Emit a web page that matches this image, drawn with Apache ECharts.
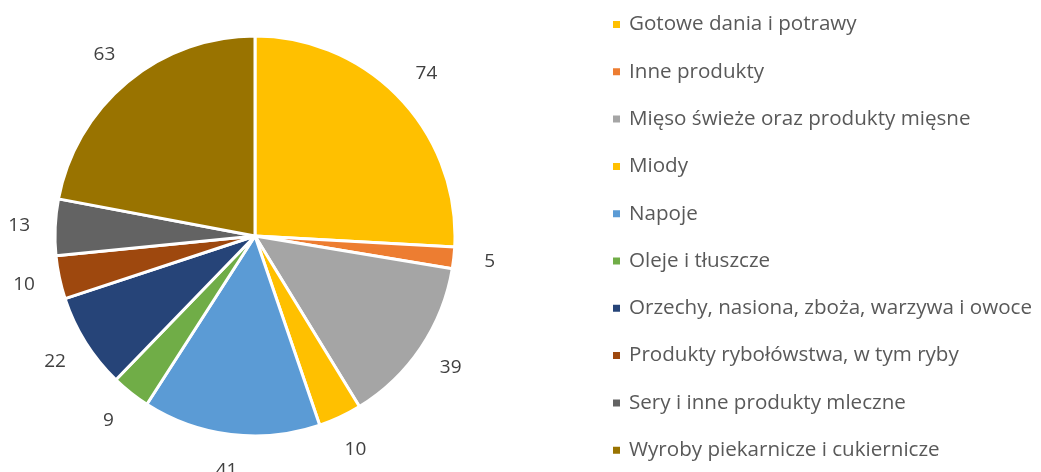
<!DOCTYPE html>
<html>
<head>
<meta charset="utf-8">
<script src="https://cdn.jsdelivr.net/npm/echarts@6/dist/echarts.min.js"></script>
<style>
  html, body { margin: 0; padding: 0; background: #fff; }
  #chart { width: 1041px; height: 472px; }
</style>
</head>
<body>
<div id="chart"></div>
<script>
const categories = [
  "Gotowe dania i potrawy",
  "Inne produkty",
  "Mięso świeże oraz produkty mięsne",
  "Miody",
  "Napoje",
  "Oleje i tłuszcze",
  "Orzechy, nasiona, zboża, warzywa i owoce",
  "Produkty rybołówstwa, w tym ryby",
  "Sery i inne produkty mleczne",
  "Wyroby piekarnicze i cukiernicze"
];
const values = [74, 5, 39, 10, 41, 9, 22, 10, 13, 63];
const colors = ["#FFC000", "#ED7D31", "#A5A5A5", "#FFC000", "#5B9BD5",
                "#70AD47", "#264478", "#9E480E", "#636363", "#997300"];

const font = "Open Sans";
const chart = echarts.init(document.getElementById("chart"));

const pieData = categories.map((name, i) => ({
  name: name,
  value: values[i],
  itemStyle: { color: colors[i] }
}));

chart.setOption({
  animation: false,
  legend: {
    orient: "vertical",
    left: 611,
    top: 14,
    padding: 0,
    icon: "rect",
    itemWidth: 9,
    itemHeight: 9,
    itemGap: 26.3,
    data: categories,
    textStyle: {
      fontFamily: font,
      fontSize: 20.6,
      color: "#595959",
      lineHeight: 20,
      padding: [0, 0, 0, 3]
    }
  },
  series: [
    {
      type: "pie",
      center: [255, 236],
      radius: [0, 200],
      startAngle: 90,
      clockwise: true,
      data: pieData,
      itemStyle: { borderColor: "#fff", borderWidth: 3 },
      label: { show: false },
      labelLine: { show: false },
      emphasis: { disabled: true }
    },
    {
      // transparent ring used only to place the value labels
      type: "pie",
      center: [255, 236],
      radius: [200, 266],
      startAngle: 90,
      clockwise: true,
      silent: true,
      data: pieData.map(d => ({ name: d.name, value: d.value, itemStyle: { color: "rgba(0,0,0,0)" } })),
      itemStyle: { borderWidth: 0 },
      label: {
        show: true,
        position: "inside",
        formatter: "{c}",
        fontFamily: font,
        fontSize: 19,
        color: "#404040"
      },
      labelLine: { show: false },
      emphasis: { disabled: true }
    }
  ]
});
</script>
</body>
</html>
